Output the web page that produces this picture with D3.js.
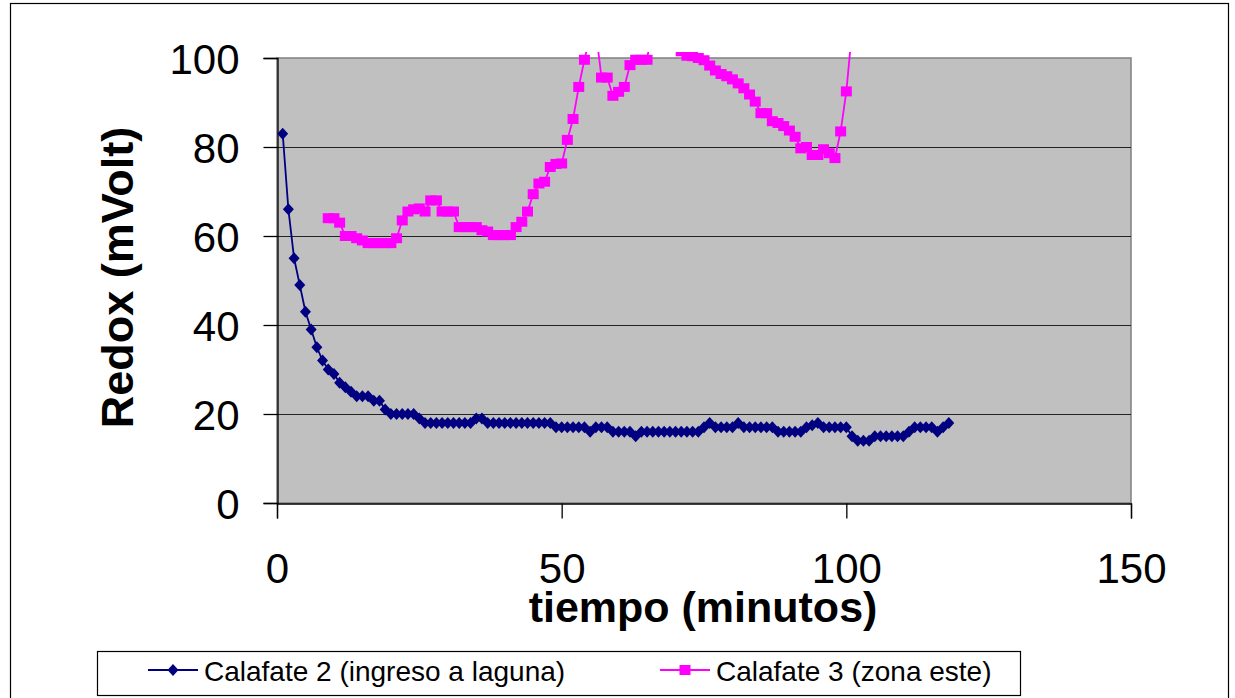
<!DOCTYPE html>
<html>
<head>
<meta charset="utf-8">
<script src="https://cdn.jsdelivr.net/npm/d3@7"></script>
<style>
  body { margin: 0; background: #fff; }
  svg { display: block; font-family: Arial, "Liberation Sans", sans-serif; }
</style>
</head>
<body>
<svg class="redox-chart" width="1235" height="698"></svg>
<script>
/**********************
 Data
**********************/
// Calafate 2 (ingreso a laguna): one reading per minute, from minute 1
var calafate2Start = 1;
var calafate2 = [83, 66, 55, 49, 43, 39, 35, 32, 30, 29,
  27, 26, 25, 24, 24, 24, 23, 23, 21, 20,
  20, 20, 20, 20, 19, 18, 18, 18, 18, 18,
  18, 18, 18, 18, 19, 19, 18, 18, 18, 18,
  18, 18, 18, 18, 18, 18, 18, 18, 17, 17,
  17, 17, 17, 17, 16, 17, 17, 17, 16, 16,
  16, 16, 15, 16, 16, 16, 16, 16, 16, 16,
  16, 16, 16, 16, 17, 18, 17, 17, 17, 17,
  18, 17, 17, 17, 17, 17, 17, 16, 16, 16,
  16, 16, 17, 17.5, 18, 17, 17, 17, 17, 17,
  15, 14, 14, 14, 15, 15, 15, 15, 15, 15,
  16, 17, 17, 17, 17, 16, 17, 18];

// Calafate 3 (zona este): one reading per minute, from minute 9
// (values above 100 run off the top of the plot)
var calafate3Start = 9;
var calafate3 = [64, 64, 63, 60, 60, 59.5, 59, 58.4, 58.4, 58.4,
  58.4, 58.4, 59.5, 63.5, 65.5, 66, 66.2, 65.5, 68, 68,
  65.5, 65.5, 65.5, 62, 62, 62, 62, 61.3, 61, 60.2,
  60.2, 60.2, 60.2, 62, 63.2, 65.5, 69.4, 71.8, 72.2, 75.5,
  76.2, 76.3, 81.6, 86.3, 93.5, 99.6, 105, 106, 95.6, 95.6,
  91.5, 92.4, 93.5, 98.4, 99.6, 99.6, 99.6, 108, 112, 112,
  110, 106, 101.5, 100.5, 100.4, 100, 99.5, 98.3, 97.2, 96.4,
  95.9, 95.2, 94.3, 93.2, 91.8, 90.2, 87.6, 87.6, 85.8, 85.4,
  84.7, 83.7, 82.3, 79.7, 80, 78.2, 78.2, 79.5, 78.6, 77.5,
  83.5, 92.5, 106];

var seriesNames = ['Calafate 2 (ingreso a laguna)', 'Calafate 3 (zona este)'];
var seriesColors = ['#000080', '#ff00ff'];

var xTicks = [0, 50, 100, 150];
var yTicks = [0, 20, 40, 60, 80, 100];

var xTitle = 'tiempo (minutos)';
var yTitle = 'Redox (mVolt)';

/**********************
 Layout
**********************/
var svg = d3.select('svg.redox-chart');

var plot = {l: 277, t: 58, r: 1131, b: 503};

var xScale = d3.scaleLinear().domain([0, 150]).range([plot.l, plot.r]);
var yScale = d3.scaleLinear().domain([0, 100]).range([plot.b, plot.t]);

// turn the value lists into points
function toPoints(values, start) {
  return values.map(function(v, i) { return {t: start + i, v: v}; });
}
var series = [
  {name: seriesNames[0], color: seriesColors[0], marker: 'diamond', points: toPoints(calafate2, calafate2Start)},
  {name: seriesNames[1], color: seriesColors[1], marker: 'square', points: toPoints(calafate3, calafate3Start)}
];

// chart border
svg.append('rect')
  .attr('x', 10.5).attr('y', 3.5)
  .attr('width', 1218).attr('height', 710)
  .attr('fill', '#fff')
  .attr('stroke', '#000')
  .attr('stroke-width', 1.2);

// plot area
svg.append('rect')
  .attr('x', plot.l).attr('y', plot.t)
  .attr('width', plot.r - plot.l).attr('height', plot.b - plot.t)
  .attr('fill', '#c0c0c0')
  .attr('stroke', '#808080')
  .attr('stroke-width', 1.5);

// gridlines
svg.append('g')
  .selectAll('line')
  .data(yTicks.filter(function(d) { return d > 0 && d < 100; }))
  .enter().append('line')
  .attr('x1', plot.l).attr('x2', plot.r)
  .attr('y1', function(d) { return Math.round(yScale(d)) + 0.5; })
  .attr('y2', function(d) { return Math.round(yScale(d)) + 0.5; })
  .attr('stroke', '#222')
  .attr('stroke-width', 1);

/**********************
 Axes
**********************/
var yAxisG = svg.append('g')
  .attr('transform', 'translate(' + (plot.l + 0.5) + ',0)')
  .call(d3.axisLeft(yScale).tickValues(yTicks).tickSize(14).tickPadding(24));
var xAxisG = svg.append('g')
  .attr('transform', 'translate(0,' + (plot.b + 0.5) + ')')
  .call(d3.axisBottom(xScale).tickValues(xTicks).tickSize(15).tickPadding(35));

[xAxisG, yAxisG].forEach(function(g) {
  g.select('.domain').attr('stroke', '#000').attr('stroke-width', 1.3);
  g.selectAll('.tick line').attr('stroke', '#000').attr('stroke-width', 1.3);
  g.selectAll('.tick text')
    .attr('fill', '#000')
    .style('font-family', 'Arial, "Liberation Sans", sans-serif')
    .style('font-size', '42px');
});
yAxisG.selectAll('.tick text').attr('dy', '0.36em');
xAxisG.selectAll('.tick text').attr('dy', '0.71em');

// axis titles
svg.append('text')
  .attr('x', 703)
  .attr('y', 622)
  .attr('text-anchor', 'middle')
  .style('font-size', '43px')
  .style('font-weight', 'bold')
  .text(xTitle);

svg.append('text')
  .attr('transform', 'translate(133,' + ((plot.t + plot.b) / 2 - 3) + ') rotate(-90)')
  .attr('text-anchor', 'middle')
  .style('font-size', '45px')
  .style('font-weight', 'bold')
  .text(yTitle);

/**********************
 Series
**********************/
svg.append('clipPath').attr('id', 'plot-clip')
  .append('rect')
  .attr('x', plot.l).attr('y', plot.t - 6)
  .attr('width', plot.r - plot.l).attr('height', plot.b - plot.t + 6);

var line = d3.line()
  .x(function(d) { return xScale(d.t); })
  .y(function(d) { return yScale(d.v); });

var diamond = 'M0,-6L5.5,0L0,6L-5.5,0Z';
var square = 'M-5.5,-5H5.5V5H-5.5Z';

var seriesG = svg.append('g').attr('clip-path', 'url(#plot-clip)');

series.forEach(function(s) {
  seriesG.append('path')
    .datum(s.points)
    .attr('d', line)
    .attr('fill', 'none')
    .attr('stroke', s.color)
    .attr('stroke-width', 1.8);

  seriesG.selectAll('.m-' + s.marker)
    .data(s.points)
    .enter().append('path')
    .attr('class', 'm-' + s.marker)
    .attr('transform', function(d) { return 'translate(' + xScale(d.t) + ',' + yScale(d.v) + ')'; })
    .attr('d', s.marker === 'diamond' ? diamond : square)
    .attr('fill', s.color);
});

/**********************
 Legend
**********************/
var legendG = svg.append('g');
legendG.append('rect')
  .attr('x', 97.5).attr('y', 651.5)
  .attr('width', 923).attr('height', 44)
  .attr('fill', '#fff')
  .attr('stroke', '#000')
  .attr('stroke-width', 1.2);

var legendX = [148, 660];
series.forEach(function(s, i) {
  var lx = legendX[i];
  legendG.append('line')
    .attr('x1', lx).attr('x2', lx + 50)
    .attr('y1', 670).attr('y2', 670)
    .attr('stroke', s.color)
    .attr('stroke-width', 1.8);
  legendG.append('path')
    .attr('transform', 'translate(' + (lx + 25) + ',670)')
    .attr('d', s.marker === 'diamond' ? diamond : square)
    .attr('fill', s.color);
  legendG.append('text')
    .attr('x', lx + 56)
    .attr('y', 681)
    .style('font-size', '28px')
    .text(s.name);
});
</script>
</body>
</html>
